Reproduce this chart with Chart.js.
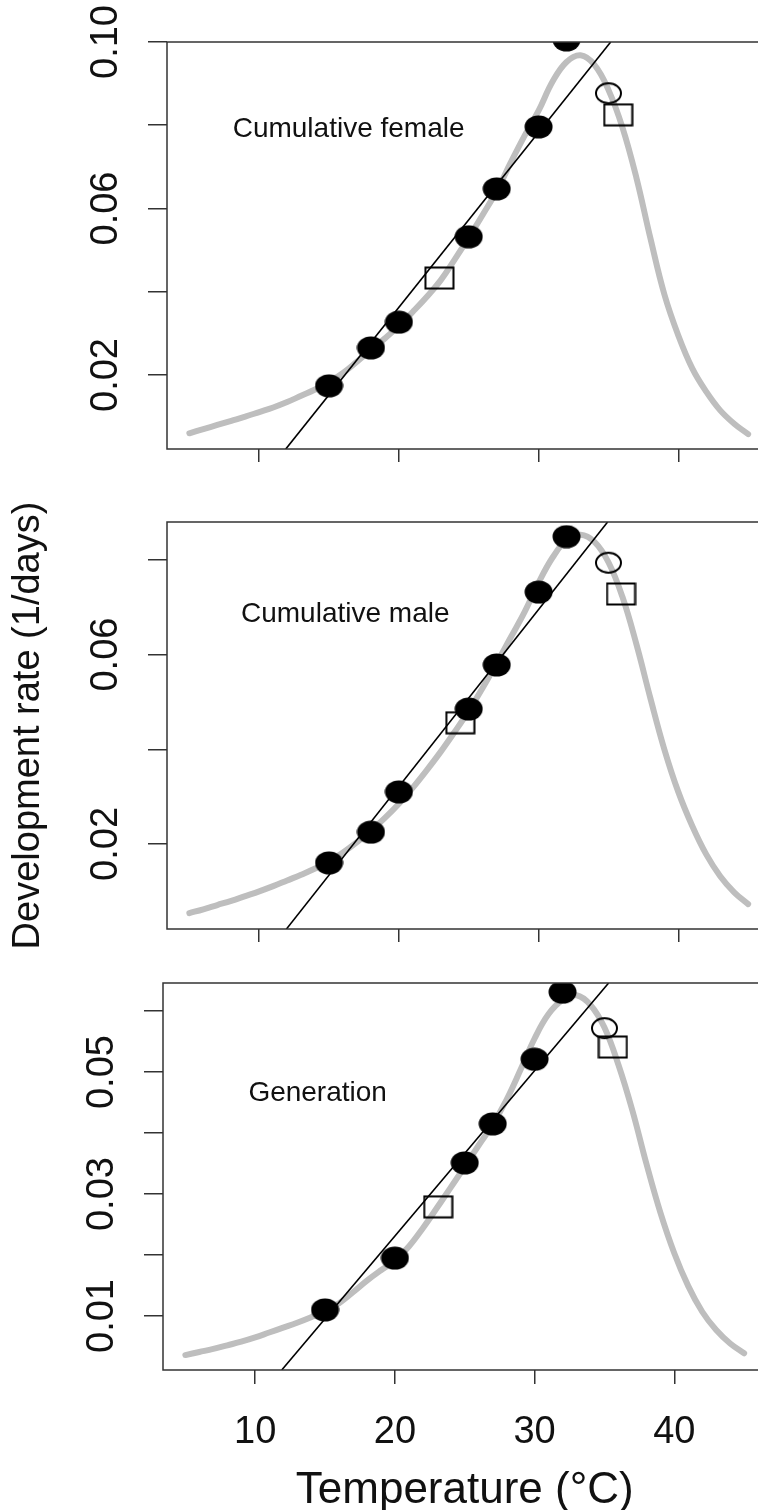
<!DOCTYPE html>
<html>
<head>
<meta charset="utf-8">
<script src="https://cdn.jsdelivr.net/npm/chart.js@4"></script>
<style>
    html, body { margin: 0; padding: 0; background: #fff; overflow: hidden; }
    #page { position: relative; width: 758px; height: 1510px; overflow: hidden; background: #fff; }
    #page canvas { position: absolute; left: 0; }
</style>
</head>
<body>
<div id="page">
    <canvas id="female" width="790" height="480" style="top:0"></canvas>
    <canvas id="male" width="790" height="480" style="top:480px"></canvas>
    <canvas id="generation" width="790" height="550" style="top:960px"></canvas>
</div>
<script>
'use strict';

// ============================================================
// Data
// ============================================================
const xTicks      = [10, 20, 30, 40];
const xTickLabels = ['10', '20', '30', '40'];

// temperatures for the fitted (grey) curves, °C
const curveTemps = [5, 6, 7, 8, 9, 10, 11, 12, 13, 14, 15, 16, 17, 18, 19, 20, 21, 22, 23, 24, 25,
                    26, 27, 28, 29, 30, 31, 32, 33, 34, 35, 36, 37, 38, 39, 40, 41, 42, 43, 44, 45];

// --- Cumulative female
const femaleCurve = [0.0060, 0.0070, 0.0080, 0.0090, 0.0100, 0.0111, 0.0122, 0.0135, 0.0150, 0.0165, 0.0183,
                     0.0205, 0.0232, 0.0260, 0.0288, 0.0318, 0.0352, 0.0388, 0.0428, 0.0478, 0.0530,
                     0.0585, 0.0642, 0.0710, 0.0775, 0.0835, 0.0905, 0.0952, 0.0968, 0.0945, 0.0885,
                     0.0795, 0.0674, 0.0529, 0.0394, 0.0295, 0.0216, 0.0160, 0.0115, 0.0083, 0.0058];
const femaleTemps       = [15, 18, 20, 25, 27, 30, 32];
const femaleRates       = [0.0174, 0.0265, 0.0327, 0.0532, 0.0647, 0.0796, 0.1005];
const femaleRingTemps   = [35];
const femaleRingRates   = [0.0877];
const femaleSquareTemps = [22.9, 35.7];
const femaleSquareRates = [0.0433, 0.0825];
const femaleLineTemps   = [11.9, 35.16];
const femaleLineRates   = [0.0022, 0.100];
const femaleYTicks  = [0.02, 0.04, 0.06, 0.08, 0.10];
const femaleYLabels = ['0.02', '', '0.06', '', '0.10'];

// --- Cumulative male
const maleCurve = [0.0054, 0.0062, 0.0071, 0.0080, 0.0090, 0.0100, 0.0111, 0.0123, 0.0135, 0.0148, 0.0163,
                   0.0182, 0.0204, 0.0228, 0.0255, 0.0285, 0.0319, 0.0356, 0.0395, 0.0437, 0.0481,
                   0.0530, 0.0582, 0.0636, 0.0690, 0.0752, 0.0805, 0.0842, 0.0853, 0.0838, 0.0795,
                   0.0722, 0.0622, 0.0508, 0.0400, 0.0310, 0.0238, 0.0178, 0.0132, 0.0098, 0.0073];
const maleTemps       = [15, 18, 20, 25, 27, 30, 32];
const maleRates       = [0.0160, 0.0225, 0.0310, 0.0485, 0.0578, 0.0732, 0.0849];
const maleRingTemps   = [35];
const maleRingRates   = [0.0794];
const maleSquareTemps = [24.4, 35.9];
const maleSquareRates = [0.0456, 0.0728];
const maleLineTemps   = [11.94, 34.94];
const maleLineRates   = [0.0020, 0.0880];
const maleYTicks  = [0.02, 0.04, 0.06, 0.08];
const maleYLabels = ['0.02', '', '0.06', ''];

// --- Generation
const generationCurve = [0.0036, 0.0041, 0.0046, 0.0052, 0.0058, 0.0065, 0.0073, 0.0081, 0.0089, 0.0098, 0.0108,
                         0.0121, 0.0139, 0.0158, 0.0175, 0.0191, 0.0214, 0.0244, 0.0277, 0.0311, 0.0345,
                         0.0380, 0.0414, 0.0455, 0.0504, 0.0555, 0.0595, 0.0618, 0.0626, 0.0610, 0.0573,
                         0.0512, 0.0437, 0.0350, 0.0270, 0.0203, 0.0149, 0.0107, 0.0077, 0.0055, 0.0039];
const generationTemps       = [15, 20, 25, 27, 30, 32];
const generationRates       = [0.0110, 0.0195, 0.0351, 0.0415, 0.0521, 0.0631];
const generationRingTemps   = [35];
const generationRingRates   = [0.0572];
const generationSquareTemps = [23.1, 35.6];
const generationSquareRates = [0.0279, 0.0541];
const generationLineTemps   = [11.9, 35.3];
const generationLineRates   = [0.00115, 0.0646];
const generationYTicks  = [0.01, 0.02, 0.03, 0.04, 0.05, 0.06];
const generationYLabels = ['0.01', '', '0.03', '', '0.05', ''];

// ============================================================
// Helpers
// ============================================================
const FONT = '"Liberation Sans", Arial, Helvetica, sans-serif';
const INK  = '#111';
const AXIS = '#333';

function pts(xs, ys) {
    return xs.map((x, i) => ({ x, y: ys[i] }));
}

// R-style markers, slightly wider than tall like the scanned figure
function makeMarker(kind) {
    const c = document.createElement('canvas');
    c.width  = kind === 'square' ? 31 : 29;
    c.height = 24;
    const ctx = c.getContext('2d');
    ctx.lineWidth   = 2;
    ctx.strokeStyle = '#000';
    ctx.fillStyle   = '#000';
    if (kind === 'dot') {
        ctx.beginPath();
        ctx.ellipse(14.5, 12, 14, 11.5, 0, 0, Math.PI * 2);
        ctx.fill();
    } else if (kind === 'ring') {
        ctx.beginPath();
        ctx.ellipse(14.5, 12, 12.5, 10, 0, 0, Math.PI * 2);
        ctx.stroke();
    } else {
        ctx.strokeRect(1.5, 1.5, 28, 21);
    }
    return c;
}
const markers = { dot: makeMarker('dot'), ring: makeMarker('ring'), square: makeMarker('square') };

// box round the plot + panel caption
const framePlugin = {
    id: 'frame',
    afterDraw(chart, args, opts) {
        const { ctx, chartArea: a } = chart;
        ctx.save();
        ctx.strokeStyle = AXIS;
        ctx.lineWidth = 1.5;
        ctx.strokeRect(a.left, a.top, a.right - a.left, a.bottom - a.top);
        if (opts.text) {
            ctx.fillStyle = INK;
            ctx.font = '28px ' + FONT;
            ctx.textAlign = 'center';
            ctx.textBaseline = 'middle';
            ctx.fillText(opts.text, chart.scales.x.getPixelForValue(opts.x), chart.scales.y.getPixelForValue(opts.y));
        }
        ctx.restore();
    }
};

// ============================================================
// Panels
// ============================================================
const panels = [
    {
        id: 'female', caption: 'Cumulative female', captionAt: [16.4, 0.0790],
        curve: femaleCurve, temps: femaleTemps, rates: femaleRates,
        ringTemps: femaleRingTemps, ringRates: femaleRingRates,
        squareTemps: femaleSquareTemps, squareRates: femaleSquareRates,
        lineTemps: femaleLineTemps, lineRates: femaleLineRates,
        yMin: 0.00222, yMax: 0.100, yTicks: femaleYTicks, yLabels: femaleYLabels,
        padTop: 42, padRight: 19.5, axisWidth: 167, xAxisHeight: 31, xTickLength: 13, bottomAxis: false
    },
    {
        id: 'male', caption: 'Cumulative male', captionAt: [16.16, 0.0686],
        curve: maleCurve, temps: maleTemps, rates: maleRates,
        ringTemps: maleRingTemps, ringRates: maleRingRates,
        squareTemps: maleSquareTemps, squareRates: maleSquareRates,
        lineTemps: maleLineTemps, lineRates: maleLineRates,
        yMin: 0.00204, yMax: 0.0880, yTicks: maleYTicks, yLabels: maleYLabels,
        yTitle: 'Development rate (1/days)',
        padTop: 42, padRight: 19.5, axisWidth: 167, xAxisHeight: 31, xTickLength: 13, bottomAxis: false
    },
    {
        id: 'generation', caption: 'Generation', captionAt: [14.47, 0.0465],
        curve: generationCurve, temps: generationTemps, rates: generationRates,
        ringTemps: generationRingTemps, ringRates: generationRingRates,
        squareTemps: generationSquareTemps, squareRates: generationSquareRates,
        lineTemps: generationLineTemps, lineRates: generationLineRates,
        yMin: 0.00115, yMax: 0.0646, yTicks: generationYTicks, yLabels: generationYLabels,
        padTop: 23, padRight: 23.5, axisWidth: 163, xAxisHeight: 140, xTickLength: 14, bottomAxis: true
    }
];

function buildPanel(p) {
    new Chart(document.getElementById(p.id), {
        type: 'scatter',
        data: {
            datasets: [
                { data: pts(p.temps, p.rates), pointStyle: markers.dot, pointRadius: 12, order: 0, clip: 0 },
                { data: pts(p.ringTemps, p.ringRates), pointStyle: markers.ring, pointRadius: 12, order: 0, clip: 0 },
                { data: pts(p.squareTemps, p.squareRates), pointStyle: markers.square, pointRadius: 12, order: 0, clip: 0 },
                {
                    data: pts(p.lineTemps, p.lineRates), showLine: true, pointRadius: 0,
                    borderColor: '#000', borderWidth: 1.6, order: 1, clip: 0
                },
                {
                    data: pts(curveTemps, p.curve), showLine: true, pointRadius: 0,
                    borderColor: '#bebebe', borderWidth: 6, borderCapStyle: 'round', borderJoinStyle: 'round',
                    tension: 0.4, order: 2, clip: 0
                }
            ]
        },
        options: {
            responsive: false,
            devicePixelRatio: 1,
            animation: false,
            events: [],
            layout: { padding: { top: p.padTop, right: p.padRight, left: 0, bottom: 0 } },
            plugins: {
                legend: { display: false },
                tooltip: { enabled: false },
                frame: { text: p.caption, x: p.captionAt[0], y: p.captionAt[1] }
            },
            scales: {
                x: {
                    type: 'linear', min: 3.4, max: 46.6, bounds: 'data',
                    afterBuildTicks: s => { s.ticks = xTicks.map(v => ({ value: v })); },
                    afterFit: s => { s.height = p.xAxisHeight; s.paddingLeft = 0; s.paddingRight = 0; },
                    grid: { drawOnChartArea: false, drawTicks: true, tickLength: p.xTickLength, color: AXIS, lineWidth: 1.5 },
                    border: { display: false },
                    ticks: {
                        display: p.bottomAxis, autoSkip: false, minRotation: 0, maxRotation: 0, padding: 26,
                        color: INK, font: { family: FONT, size: 38 },
                        callback: v => xTickLabels[xTicks.indexOf(v)] ?? ''
                    },
                    title: {
                        display: p.bottomAxis, text: 'Temperature (°C)', color: INK,
                        font: { family: FONT, size: 44, lineHeight: 0.86 }, padding: { top: 0, bottom: 0 }
                    }
                },
                y: {
                    type: 'linear', min: p.yMin, max: p.yMax, bounds: 'data',
                    afterBuildTicks: s => { s.ticks = p.yTicks.map(v => ({ value: v })); },
                    afterFit: s => { s.width = p.axisWidth; s.paddingTop = 0; s.paddingBottom = 0; },
                    grid: { drawOnChartArea: false, drawTicks: true, tickLength: 19, color: AXIS, lineWidth: 1.5 },
                    border: { display: false },
                    ticks: {
                        autoSkip: false, minRotation: 90, maxRotation: 90, crossAlign: 'center', padding: 5,
                        color: INK, font: { family: FONT, size: 38 },
                        callback: v => p.yLabels[p.yTicks.indexOf(v)] ?? ''
                    },
                    title: {
                        display: !!p.yTitle, text: p.yTitle || '', color: INK,
                        font: { family: FONT, size: 38, lineHeight: 1.2 }, padding: { top: 6, bottom: 0 }
                    }
                }
            }
        },
        plugins: [framePlugin]
    });
}

panels.forEach(buildPanel);
</script>
</body>
</html>
